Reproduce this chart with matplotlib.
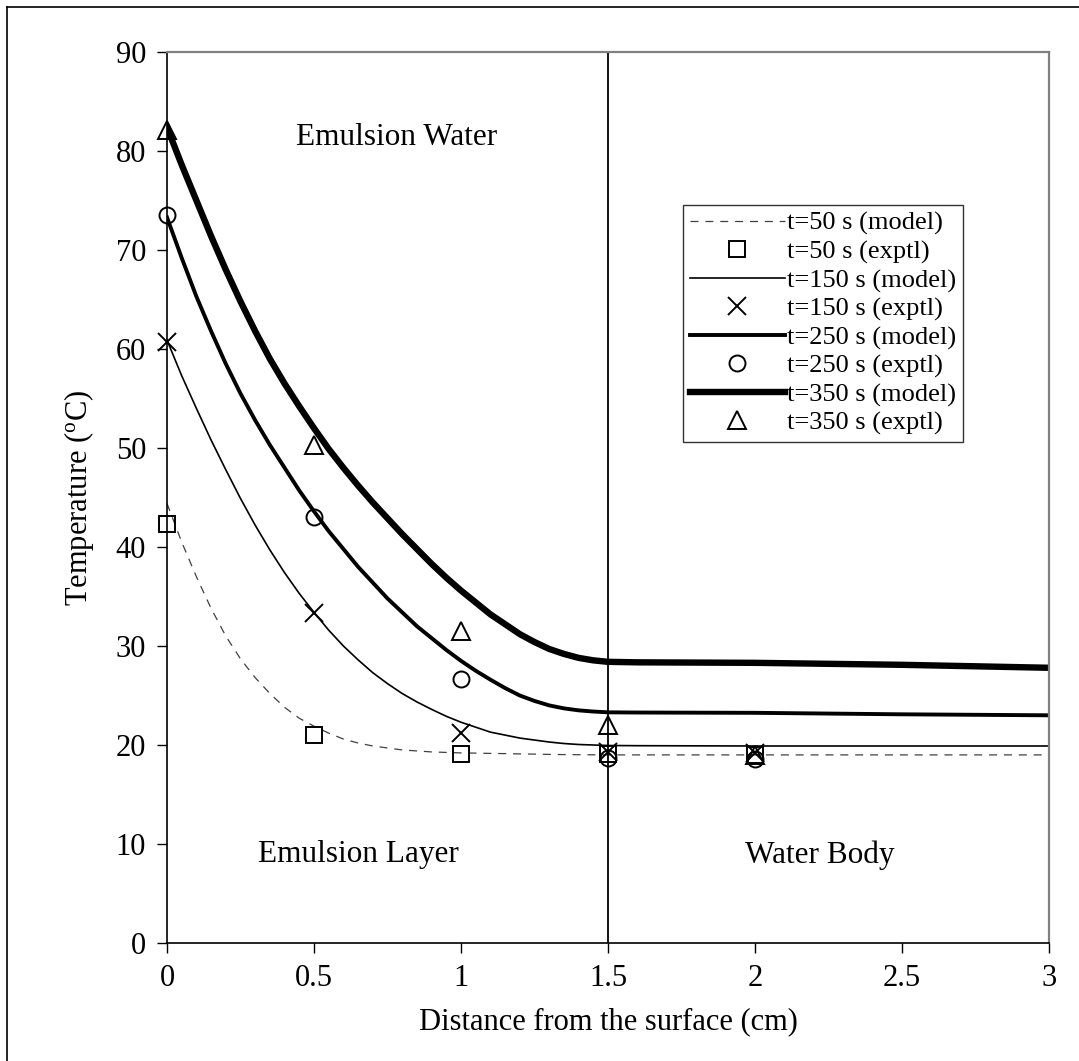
import matplotlib
matplotlib.use("Agg")
import matplotlib.pyplot as plt
from matplotlib.lines import Line2D

plt.rcParams["font.family"] = ["Liberation Serif", "DejaVu Serif"]
plt.rcParams["mathtext.fontset"] = "custom"
plt.rcParams["mathtext.rm"] = "Liberation Serif"
plt.rcParams["mathtext.it"] = "Liberation Serif:italic"

# model curves
x_model = [0, 0.05, 0.1, 0.15, 0.2, 0.25, 0.3, 0.35, 0.4, 0.45, 0.5,
           0.55, 0.6, 0.65, 0.7, 0.75, 0.8, 0.85, 0.9, 0.95, 1.0,
           1.05, 1.1, 1.15, 1.2, 1.25, 1.3, 1.35, 1.4, 1.45, 1.5,
           1.6, 2.0, 2.5, 3.0]
t50_model = [44.4, 40.5, 37.0, 33.8, 31.0, 28.7, 26.8, 25.2, 23.8, 22.7, 21.9,
             21.2, 20.6, 20.2, 19.9, 19.7, 19.5, 19.4, 19.3, 19.25, 19.2,
             19.18, 19.15, 19.13, 19.1, 19.08, 19.05, 19.03, 19.02, 19.01, 19.0,
             19.0, 19.0, 19.0, 19.0]
t150_model = [60.9, 57.3, 54.0, 50.8, 47.8, 44.9, 42.2, 39.7, 37.4, 35.3, 33.4,
              31.6, 30.0, 28.6, 27.3, 26.2, 25.2, 24.35, 23.6, 22.9, 22.3,
              21.8, 21.3, 21.0, 20.7, 20.5, 20.3, 20.15, 20.05, 20.0, 19.95,
              19.93, 19.9, 19.9, 19.9]
t250_model = [73.3, 69.2, 65.3, 61.8, 58.5, 55.5, 52.8, 50.3, 48.0, 45.7, 43.6,
              41.6, 39.8, 38.0, 36.4, 34.8, 33.4, 32.0, 30.8, 29.6, 28.5,
              27.5, 26.6, 25.75, 25.0, 24.45, 24.0, 23.7, 23.5, 23.38, 23.3,
              23.28, 23.25, 23.1, 23.0]
t350_model = [82.4, 78.6, 75.0, 71.4, 68.0, 64.8, 61.8, 59.0, 56.5, 54.2, 52.0,
              49.9, 48.0, 46.2, 44.5, 42.9, 41.3, 39.8, 38.3, 36.9, 35.6,
              34.4, 33.2, 32.2, 31.2, 30.4, 29.7, 29.2, 28.8, 28.55, 28.4,
              28.35, 28.3, 28.1, 27.8]

# experimental points
x_exp = [0, 0.5, 1.0, 1.5, 2.0]
t50_exp = [42.3, 21.0, 19.1, 19.1, 19.0]
t150_exp = [60.7, 33.3, 21.2, 19.3, 19.2]
t250_exp = [73.5, 43.0, 26.7, 18.7, 18.6]
t350_exp = [82.1, 50.3, 31.5, 22.0, 19.0]

fig = plt.figure(figsize=(10.79, 10.61), dpi=100)
ax = fig.add_axes([167/1079, 1-943/1061, (1049-167)/1079, (943-52)/1061])

mk = dict(ls="none", color="black", mfc="none", mec="black", mew=1.4, clip_on=False, zorder=5)

ax.plot(x_model, t50_model, color="#404040", lw=0.9, dashes=(6.4, 5.5), label="t=50 s (model)")
ax.plot(x_exp, t50_exp, marker="s", ms=11.5, label="t=50 s (exptl)", **mk)
ax.plot(x_model, t150_model, color="black", lw=1.2, label="t=150 s (model)")
ax.plot(x_exp, t150_exp, marker="x", ms=12.5, label="t=150 s (exptl)", **mk)
ax.plot(x_model, t250_model, color="black", lw=2.8, label="t=250 s (model)")
ax.plot(x_exp, t250_exp, marker="o", ms=11.5, label="t=250 s (exptl)", **mk)
ax.plot(x_model, t350_model, color="black", lw=4.6, label="t=350 s (model)")
ax.plot(x_exp, t350_exp, marker="^", ms=12.5, label="t=350 s (exptl)", **mk)

ax.axvline(1.5, color="black", lw=1.3)

ax.set_xlim(0, 3)
ax.set_ylim(0, 90)
ax.set_xticks([0, 0.5, 1, 1.5, 2, 2.5, 3])
ax.set_xticklabels(["0", "0.5", "1", "1.5", "2", "2.5", "3"])
ax.set_yticks(range(0, 91, 10))
ax.tick_params(labelsize=22, direction="out", length=7, width=1, pad=8)

ax.set_xlabel("Distance from the surface (cm)", fontsize=22, labelpad=10)
ax.set_ylabel(r"Temperature ($^{\mathrm{o}}$C)", fontsize=22, labelpad=14)

for s in ["top", "right"]:
    ax.spines[s].set_color("#808080")
    ax.spines[s].set_linewidth(1.6)
for s in ["left", "bottom"]:
    ax.spines[s].set_color("black")
    ax.spines[s].set_linewidth(1.2)

ax.text(0.78, 81.4, "Emulsion Water", ha="center", va="center", fontsize=22.5)
ax.text(0.65, 8.9, "Emulsion Layer", ha="center", va="center", fontsize=22.5)
ax.text(2.22, 8.9, "Water Body", ha="center", va="center", fontsize=22.5)

leg = ax.legend(loc="upper left", bbox_to_anchor=(683/1079, 1-205/1061),
                bbox_transform=fig.transFigure, fontsize=19, frameon=True,
                fancybox=False, framealpha=1, edgecolor="#333333",
                handlelength=3.6, handletextpad=0.1, labelspacing=0.175,
                borderpad=0.25, borderaxespad=0)
leg.get_frame().set_linewidth(1.0)

# outer frame of the original figure (left and top edges show)
fig.add_artist(Line2D([7/1079, 7/1079], [0, 1-7/1061], color="black", lw=1.2))
fig.add_artist(Line2D([7/1079, 1], [1-7/1061, 1-7/1061], color="black", lw=1.2))

fig.savefig("out.png", dpi=100)
